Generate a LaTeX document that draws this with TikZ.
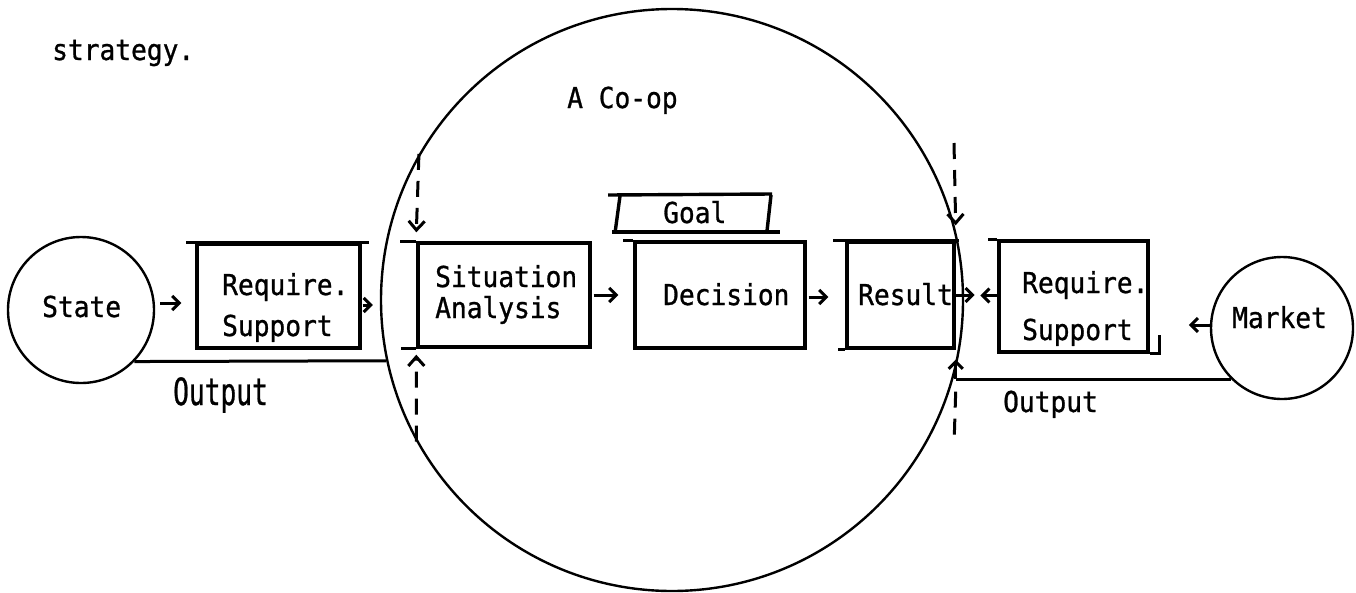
\documentclass[tikz,border=0pt]{standalone}
\usepackage{fontspec}
\newfontfamily\tw[FakeStretch=0.91,FakeBold=0.9]{DejaVu Sans Mono}
\usetikzlibrary{arrows.meta}
\tikzset{
  tx/.style={anchor=base west, inner sep=0pt, font=\tw\fontsize{28.8}{34}\selectfont},
  boxnode/.style={draw, line width=3.4pt, inner sep=0pt},
  boxline/.style={line width=3.4pt},
  ring/.style={draw, circle, line width=2.4pt, inner sep=0pt},
  conn/.style={line width=3pt},
  arr/.style={line width=3pt, -{Straight Barb[length=7pt,width=14pt,line width=3pt]}},
  dashline/.style={line width=3pt, dash pattern=on 16pt off 11pt},
  dasharr/.style={dashline, -{Straight Barb[length=9pt,width=16pt,line width=3pt]}},
}
\begin{document}
\begin{tikzpicture}[x=1pt,y=-1pt]
\useasboundingbox (0,0) rectangle (1356,592);

% circles
\node[ring, minimum size=582pt] (coop) at (672,300) {};
\node[ring, minimum size=146pt] (state) at (81,310) {};
\node[ring, minimum size=142pt] (market) at (1282,328) {};

% boxes
\node[boxnode, minimum width=163pt, minimum height=104pt] (req1) at (278.5,296) {};
\node[boxnode, minimum width=172pt, minimum height=104pt] (sit) at (504,295) {};
\node[boxnode, minimum width=170pt, minimum height=106pt] (dec) at (720,295) {};
\node[boxnode, minimum width=107pt, minimum height=106pt] (res) at (900.5,295) {};
\node[boxnode, minimum width=149pt, minimum height=111pt] (req2) at (1073.5,296.5) {};

% overhanging strokes of the hand-drawn boxes
\draw[boxline] ([xshift=-9pt]req1.north west) -- ([xshift=7pt]req1.north east);
\draw[boxline] ([xshift=-16pt]sit.north west) -- (sit.north west);
\draw[boxline] ([xshift=-15pt]sit.south west) -- (sit.south west);
\draw[boxline] ([xshift=-10pt]dec.north west) -- (dec.north west);
\draw[boxline] ([xshift=-12pt]res.north west) -- ([xshift=3pt]res.north east);
\draw[boxline] ([xshift=-7pt]res.south west) -- (res.south west);
\draw[boxline] ([xshift=-9pt]req2.north west) -- (req2.north west);
\draw[boxline] (req2.south east) -- ([xshift=10pt]req2.south east) -- ([shift={(10,-19)}]req2.south east);

% goal tag
\draw[boxline] (608,195) -- (772,194);
\draw[boxline] (620,196) -- (615,233);
\draw[boxline] (612,232) -- (780,232);
\draw[boxline] (771,195) -- (767,231);

% texts
\node[tx] (strat) at (52,60) {strategy.};
\node[tx] (coopt) at (567,108) {A Co-op};
\node[tx] (statet) at (42,317) {State};
\node[tx] (req1a) at (222,295) {Require.};
\node[tx] (req1b) at (222,336) {Support};
\node[tx] (out1) at (173,405) {\scalebox{1}[1.3]{Output}};
\node[tx] (sita) at (435,287) {Situation};
\node[tx] (sitb) at (435,318) {Analysis};
\node[tx] (goal) at (663,223) {Goal};
\node[tx] (dect) at (663,305) {Decision};
\node[tx] (rest) at (858,305) {Result};
\node[tx] (req2a) at (1022,293) {Require.};
\node[tx] (req2b) at (1022,340) {Support};
\node[tx] (markt) at (1232,328) {Market};
\node[tx] (out2) at (1003,412) {Output};

% flow arrows
\draw[arr] ([shift={(5,-7)}]state.east) -- ([shift={(-14,7)}]req1.west);
\draw[arr] ([shift={(1,9)}]req1.east) -- ([shift={(-7,5)}]coop.west);
\draw[arr] ([xshift=2pt]sit.east) -- ([xshift=-15pt]dec.west);
\draw[arr] ([shift={(2,2)}]dec.east) -- ([shift={(-17,2)}]res.west);
\draw[arr] (res.east) -- ([xshift=19pt]res.east);
\draw[arr] ([shift={(0,-1)}]req2.west) -- ([shift={(-17,-1)}]req2.west);
\draw[arr] ([shift={(0,-3)}]market.west) -- ([shift={(-21,-3)}]market.west);

% output lines
\draw[conn] (state.-44) -- (coop.192);
\coordinate (rjoin) at (coop.-15.5 -| res.east);
\draw[conn] (market.-135) -- (market.-135 -| rjoin);
\draw[arr, shorten >=10pt] (market.-135 -| rjoin) -- (res.south east);

% dashed boundary lines
\draw[dasharr] (coop.150.8) -- ([shift={(0,-9)}]sit.north west);
\draw[dasharr] (coop.209.2) -- ([shift={(0,6)}]sit.south west);
\coordinate (rdtop) at (954,143);
\coordinate (rdbot) at (954,445);
\draw[dasharr] (rdtop) -- ([shift={(0,-15)}]res.north east);
\draw[dashline] ([shift={(0,16)}]rjoin) -- (rdbot);
\end{tikzpicture}
\end{document}
